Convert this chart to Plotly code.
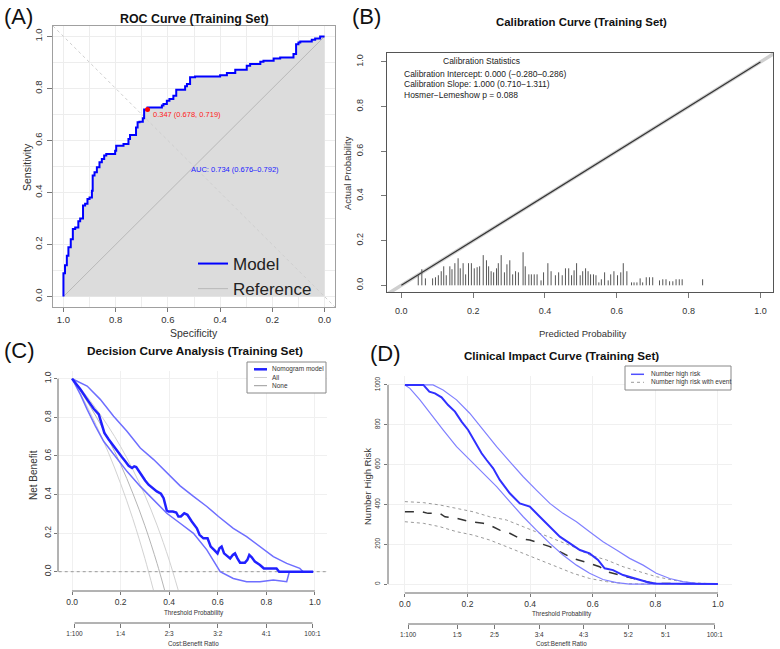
import plotly.graph_objects as go

W, H = 780, 649
def px(x): return x / W
def py(y): return 1 - y / H

FONT = "Liberation Sans, Arial, Helvetica, sans-serif"

# ---------------- Panel A : ROC ----------------
roc_spec = [1.000, 1.000, 0.994, 0.987, 0.981, 0.972, 0.964, 0.955, 0.943, 0.936, 0.925, 0.917,
            0.908, 0.900, 0.891, 0.888, 0.881, 0.872, 0.862, 0.853, 0.844, 0.836, 0.828, 0.802,
            0.798, 0.793, 0.770, 0.768, 0.751, 0.745, 0.734, 0.722, 0.716, 0.709, 0.696, 0.691,
            0.678, 0.658, 0.623, 0.617, 0.604, 0.594, 0.579, 0.568, 0.553, 0.534, 0.527, 0.515,
            0.496, 0.400, 0.374, 0.342, 0.298, 0.285, 0.246, 0.234, 0.195, 0.170, 0.119, 0.109,
            0.100, 0.093, 0.049, 0.036, 0.017, 0.000]
roc_sens = [0.000, 0.080, 0.090, 0.120, 0.157, 0.190, 0.220, 0.260, 0.266, 0.290, 0.300, 0.350,
            0.357, 0.375, 0.381, 0.407, 0.465, 0.478, 0.497, 0.516, 0.529, 0.542, 0.548, 0.548,
            0.561, 0.580, 0.580, 0.586, 0.586, 0.606, 0.621, 0.621, 0.650, 0.670, 0.672, 0.685,
            0.719, 0.727, 0.727, 0.734, 0.740, 0.753, 0.759, 0.772, 0.795, 0.795, 0.808, 0.817,
            0.843, 0.846, 0.851, 0.859, 0.872, 0.887, 0.894, 0.903, 0.906, 0.915, 0.919, 0.932,
            0.970, 0.977, 0.980, 0.987, 0.992, 1.000]
ref_spec = [1.0, 0.0]
ref_sens = [0.0, 1.0]
cut_spec, cut_sens, cut_thr = 0.678, 0.719, 0.347
auc_text = "AUC: 0.734 (0.676\u20130.792)"

# ---------------- Panel B : Calibration ----------------
cal_pred = [0.0, 1.0]
cal_obs = [0.0, 1.0]
ideal = [-0.05, 1.05]
spike_x = [0.047, 0.057, 0.067, 0.087, 0.095, 0.103, 0.111, 0.118, 0.125, 0.135, 0.141, 0.149,
           0.158, 0.164, 0.172, 0.179, 0.187, 0.195, 0.203, 0.211, 0.218, 0.228, 0.237, 0.243,
           0.250, 0.257, 0.265, 0.270, 0.278, 0.287, 0.294, 0.302, 0.310, 0.318, 0.326, 0.339,
           0.345, 0.355, 0.362, 0.370, 0.378, 0.389, 0.396, 0.408, 0.417, 0.429, 0.438, 0.448,
           0.457, 0.466, 0.474, 0.481, 0.488, 0.498, 0.505, 0.513, 0.520, 0.527, 0.535, 0.542,
           0.550, 0.557, 0.566, 0.576, 0.583, 0.592, 0.602, 0.611, 0.618, 0.628, 0.641, 0.648,
           0.656, 0.665, 0.672, 0.682, 0.691, 0.700, 0.719, 0.728, 0.737, 0.747, 0.756, 0.765,
           0.774, 0.782, 0.839]
spike_h = [0.045, 0.072, 0.031, 0.031, 0.036, 0.045, 0.063, 0.085, 0.045, 0.085, 0.072, 0.099,
           0.121, 0.076, 0.099, 0.049, 0.099, 0.099, 0.076, 0.081, 0.085, 0.135, 0.112, 0.085,
           0.063, 0.058, 0.076, 0.099, 0.135, 0.058, 0.094, 0.112, 0.049, 0.063, 0.058, 0.148,
           0.085, 0.049, 0.049, 0.049, 0.049, 0.022, 0.058, 0.099, 0.063, 0.045, 0.058, 0.045,
           0.076, 0.076, 0.045, 0.067, 0.099, 0.045, 0.063, 0.076, 0.063, 0.049, 0.049, 0.045,
           0.013, 0.027, 0.058, 0.022, 0.049, 0.063, 0.045, 0.058, 0.099, 0.063, 0.013, 0.013,
           0.013, 0.031, 0.013, 0.036, 0.036, 0.036, 0.022, 0.027, 0.027, 0.018, 0.018, 0.027,
           0.027, 0.027, 0.027]
cal_stats = ["Calibration Intercept: 0.000 (\u22120.280\u20130.286)",
             "Calibration Slope: 1.000 (0.710\u22121.311)",
             "Hosmer\u2212Lemeshow p = 0.088"]

# ---------------- Panel C : DCA ----------------
dca_x = [0.0, 0.034, 0.062, 0.089, 0.110, 0.116, 0.123, 0.133, 0.151, 0.171, 0.188, 0.205, 0.219,
         0.233, 0.247, 0.256, 0.264, 0.278, 0.288, 0.301, 0.315, 0.333, 0.349, 0.366, 0.377, 0.390,
         0.397, 0.415, 0.429, 0.438, 0.448, 0.462, 0.475, 0.493, 0.514, 0.525, 0.541, 0.558, 0.571,
         0.585, 0.599, 0.607, 0.616, 0.626, 0.640, 0.651, 0.662, 0.671, 0.681, 0.692, 0.712, 0.722,
         0.730, 0.740, 0.753, 0.774, 0.790, 0.842, 0.853, 0.993]
dca_nb = [1.0, 0.945, 0.893, 0.844, 0.815, 0.792, 0.762, 0.719, 0.685, 0.650, 0.619, 0.594, 0.572,
          0.549, 0.537, 0.546, 0.542, 0.515, 0.497, 0.473, 0.451, 0.433, 0.416, 0.404, 0.381, 0.317,
          0.312, 0.312, 0.307, 0.286, 0.286, 0.303, 0.295, 0.260, 0.225, 0.191, 0.173, 0.173, 0.130,
          0.113, 0.095, 0.121, 0.130, 0.095, 0.078, 0.069, 0.087, 0.095, 0.069, 0.047, 0.047, 0.061,
          0.087, 0.075, 0.052, 0.035, 0.017, 0.017, 0.0, 0.0]
dca_up_x = [0.0, 0.062, 0.116, 0.171, 0.226, 0.281, 0.336, 0.390, 0.445, 0.500, 0.555, 0.603,
            0.664, 0.719, 0.774, 0.829, 0.884, 0.938, 0.952, 0.993]
dca_up = [1.0, 0.962, 0.893, 0.806, 0.728, 0.641, 0.581, 0.511, 0.445, 0.390, 0.338, 0.286,
          0.225, 0.182, 0.130, 0.078, 0.043, 0.017, 0.0, 0.0]
dca_lo_x = [0.0, 0.034, 0.062, 0.096, 0.130, 0.171, 0.226, 0.281, 0.336, 0.390, 0.445, 0.500,
            0.555, 0.610, 0.664, 0.719, 0.774, 0.829, 0.884, 0.895, 0.993]
dca_lo = [1.0, 0.919, 0.841, 0.754, 0.676, 0.607, 0.520, 0.442, 0.373, 0.303, 0.251, 0.199,
          0.113, 0.0, -0.035, -0.052, -0.052, -0.043, -0.052, 0.0, 0.0]
all_x = [0.0, 0.05, 0.10, 0.15, 0.20, 0.25, 0.30, 0.35, 0.40, 0.437]
all_mid = [1.0, 0.906, 0.802, 0.686, 0.556, 0.407, 0.238, 0.043, -0.095]
all_mid_x = [0.0, 0.05, 0.10, 0.15, 0.20, 0.25, 0.30, 0.35, 0.381]
all_lo = [1.0, 0.886, 0.758, 0.616, 0.456, 0.275, 0.068, -0.095]
all_lo_x = [0.0, 0.05, 0.10, 0.15, 0.20, 0.25, 0.30, 0.335]
all_hi = [1.0, 0.926, 0.843, 0.751, 0.648, 0.530, 0.396, 0.241, 0.060, -0.095]
none_x = [-0.055, 1.05]
none_y = [0.0, 0.0]
cb_c_pos = [0.01, 0.2, 0.4, 0.6, 0.8, 0.99]
cb_c_lab = ["1:100", "1:4", "2:3", "3:2", "4:1", "100:1"]

# ---------------- Panel D : Clinical impact ----------------
hr_x = [0.0, 0.059, 0.078, 0.096, 0.117, 0.138, 0.160, 0.181, 0.202, 0.223, 0.245, 0.261, 0.282,
        0.303, 0.335, 0.367, 0.399, 0.431, 0.463, 0.495, 0.527, 0.559, 0.590, 0.617, 0.638, 0.665,
        0.697, 0.739, 0.782, 0.803, 1.0]
hr_y = [1000, 1000, 966, 958, 938, 899, 866, 816, 774, 715, 657, 623, 581, 523, 456, 405, 389, 338,
        288, 238, 204, 171, 154, 121, 79, 70, 45, 28, 7, 3, 0]
hr_up_x = [0.0, 0.09, 0.122, 0.165, 0.207, 0.25, 0.293, 0.335, 0.378, 0.42, 0.463, 0.505, 0.548,
           0.59, 0.633, 0.676, 0.718, 0.761, 0.803, 0.846, 0.888, 0.931, 1.0]
hr_up = [1000, 1000, 975, 925, 858, 774, 690, 615, 539, 472, 405, 355, 313, 263, 213, 171, 129, 95,
         54, 28, 12, 3, 0]
hr_lo_x = [0.0, 0.016, 0.048, 0.08, 0.122, 0.165, 0.207, 0.25, 0.293, 0.335, 0.378, 0.42, 0.463,
           0.505, 0.548, 0.59, 0.633, 0.676, 0.718, 1.0]
hr_lo = [1000, 983, 925, 858, 774, 690, 623, 556, 489, 414, 338, 271, 204, 146, 95, 54, 23, 7, 0, 0]
ev_x = [0.0, 0.053, 0.074, 0.112, 0.128, 0.165, 0.207, 0.25, 0.271, 0.303, 0.335, 0.367, 0.399,
        0.431, 0.463, 0.495, 0.537, 0.59, 0.622, 0.644, 0.686, 0.729, 0.771, 0.803, 1.0]
ev_y = [363, 363, 355, 355, 338, 330, 313, 305, 296, 271, 255, 229, 221, 204, 188, 162, 129, 104,
        87, 62, 45, 28, 12, 3, 0]
ev_up_x = [0.0, 0.059, 0.112, 0.165, 0.218, 0.271, 0.324, 0.378, 0.431, 0.484, 0.537, 0.59, 0.644,
           0.697, 0.75, 0.803, 0.856, 0.91, 1.0]
ev_up = [414, 409, 397, 380, 363, 338, 322, 288, 255, 221, 188, 146, 121, 87, 62, 37, 20, 7, 0]
ev_lo_x = [0.0, 0.059, 0.112, 0.165, 0.218, 0.271, 0.324, 0.378, 0.431, 0.484, 0.537, 0.59, 0.644,
           0.697, 0.75, 1.0]
ev_lo = [313, 305, 288, 263, 246, 221, 188, 154, 121, 87, 54, 28, 12, 3, 0, 0]
cb_d_pos = [0.01, 0.167, 0.286, 0.429, 0.571, 0.714, 0.833, 0.99]
cb_d_lab = ["1:100", "1:5", "2:5", "3:4", "4:3", "5:2", "5:1", "100:1"]

fig = go.Figure()
skip = dict(hoverinfo="skip")

# ---- A traces
fig.add_trace(go.Scatter(x=roc_spec, y=roc_sens, mode="lines", line=dict(width=0, shape="vh"),
                         fill="tozeroy", fillcolor="#DCDCDC", showlegend=False, xaxis="x", yaxis="y", **skip))
fig.add_trace(go.Scatter(x=[1.04, -0.04], y=[1.04, -0.04], mode="lines",
                         line=dict(color="#CFCFCF", width=1, dash="dot"), showlegend=False,
                         xaxis="x", yaxis="y", **skip))
fig.add_trace(go.Scatter(x=ref_spec, y=ref_sens, mode="lines", name="Reference", legendrank=2,
                         line=dict(color="#B8B8B8", width=1), xaxis="x", yaxis="y", **skip))
fig.add_trace(go.Scatter(x=roc_spec, y=roc_sens, mode="lines", name="Model", legendrank=1,
                         line=dict(color="#0000FF", width=2, shape="vh"), xaxis="x", yaxis="y", **skip))
fig.add_trace(go.Scatter(x=[cut_spec], y=[cut_sens], mode="markers", showlegend=False,
                         marker=dict(color="#FF0000", size=5), xaxis="x", yaxis="y", **skip))

# ---- B traces
fig.add_trace(go.Scatter(x=ideal, y=ideal, mode="lines", line=dict(color="#CFCFCF", width=3.5),
                         showlegend=False, xaxis="x2", yaxis="y2", **skip))
fig.add_trace(go.Scatter(x=cal_pred, y=cal_obs, mode="lines", line=dict(color="#333333", width=1.2),
                         showlegend=False, xaxis="x2", yaxis="y2", **skip))
sx, sy = [], []
for xv, hv in zip(spike_x, spike_h):
    sx += [xv, xv, None]
    sy += [0, hv, None]
fig.add_trace(go.Scatter(x=sx, y=sy, mode="lines", line=dict(color="#555555", width=1),
                         showlegend=False, xaxis="x2", yaxis="y2", **skip))

# ---- C traces
for xs, ys, col in [(all_lo_x, all_lo, "#D2D2D2"), (all_mid_x, all_mid, "#B5B5B5"), (all_x, all_hi, "#D2D2D2")]:
    fig.add_trace(go.Scatter(x=xs, y=ys, mode="lines", line=dict(color=col, width=1, shape="spline"),
                             showlegend=False, xaxis="x3", yaxis="y3", **skip))
fig.add_trace(go.Scatter(x=none_x, y=none_y, mode="lines", line=dict(color="#999999", width=1, dash="dot"),
                         showlegend=False, xaxis="x3", yaxis="y3", **skip))
fig.add_trace(go.Scatter(x=dca_up_x, y=dca_up, mode="lines", line=dict(color="#6E6EFF", width=1.5),
                         showlegend=False, xaxis="x3", yaxis="y3", **skip))
fig.add_trace(go.Scatter(x=dca_lo_x, y=dca_lo, mode="lines", line=dict(color="#6E6EFF", width=1.5),
                         showlegend=False, xaxis="x3", yaxis="y3", **skip))
fig.add_trace(go.Scatter(x=dca_x, y=dca_nb, mode="lines", line=dict(color="#2020FF", width=2.5),
                         showlegend=False, xaxis="x3", yaxis="y3", **skip))
fig.add_trace(go.Scatter(x=[None], y=[None], showlegend=False, xaxis="x5", yaxis="y3", **skip))

# ---- D traces
fig.add_trace(go.Scatter(x=ev_up_x, y=ev_up, mode="lines", line=dict(color="#9A9A9A", width=1, dash="dot"),
                         showlegend=False, xaxis="x4", yaxis="y4", **skip))
fig.add_trace(go.Scatter(x=ev_lo_x, y=ev_lo, mode="lines", line=dict(color="#9A9A9A", width=1, dash="dot"),
                         showlegend=False, xaxis="x4", yaxis="y4", **skip))
fig.add_trace(go.Scatter(x=ev_x, y=ev_y, mode="lines", line=dict(color="#333333", width=1.5, dash="dash"),
                         showlegend=False, xaxis="x4", yaxis="y4", **skip))
fig.add_trace(go.Scatter(x=hr_up_x, y=hr_up, mode="lines", line=dict(color="#8080FF", width=1.2),
                         showlegend=False, xaxis="x4", yaxis="y4", **skip))
fig.add_trace(go.Scatter(x=hr_lo_x, y=hr_lo, mode="lines", line=dict(color="#8080FF", width=1.2),
                         showlegend=False, xaxis="x4", yaxis="y4", **skip))
fig.add_trace(go.Scatter(x=hr_x, y=hr_y, mode="lines", line=dict(color="#3030FF", width=2),
                         showlegend=False, xaxis="x4", yaxis="y4", **skip))
fig.add_trace(go.Scatter(x=[None], y=[None], showlegend=False, xaxis="x6", yaxis="y4", **skip))

TICK = dict(family=FONT, size=9.5, color="#333333")

def ax(domain, rng, **kw):
    d = dict(domain=domain, range=rng, ticks="outside", ticklen=5, tickwidth=1, tickcolor="#777777",
             tickfont=TICK, showgrid=False, zeroline=False, showline=False, fixedrange=True)
    d.update(kw)
    return d

ticks01 = [0, 0.2, 0.4, 0.6, 0.8, 1.0]
lab01 = ["0.0", "0.2", "0.4", "0.6", "0.8", "1.0"]
SMALL = dict(family=FONT, size=8.5, color="#333")

layout = dict(
    width=W, height=H, margin=dict(l=0, r=0, t=0, b=0),
    paper_bgcolor="white", plot_bgcolor="white",
    font=dict(family=FONT, color="#222222"),
    xaxis=ax([px(53), px(335)], [1.04, -0.04], anchor="y", tickvals=ticks01, ticktext=lab01,
             showline=True, mirror=True, linecolor="#A0A0A0", showgrid=True, gridcolor="#EDEDED",
             minor=dict(dtick=0.1, showgrid=True, gridcolor="#EDEDED"), ticklen=4),
    yaxis=ax([py(307), py(26)], [-0.04, 1.04], anchor="x", tickvals=ticks01, ticktext=lab01,
             tickangle=-90, showline=True, mirror=True, linecolor="#A0A0A0", showgrid=True,
             gridcolor="#EDEDED", minor=dict(dtick=0.1, showgrid=True, gridcolor="#EDEDED"),
             ticklabelstandoff=1),
    xaxis2=ax([px(387), px(773)], [-0.04, 1.035], anchor="y2", tickvals=ticks01, ticktext=lab01,
              showline=True, mirror=True, linecolor="#555555", ticklabelstandoff=5,
              tickfont=dict(family=FONT, size=9, color="#333")),
    yaxis2=ax([py(292), py(53)], [-0.03, 1.04], anchor="x2", tickvals=ticks01, ticktext=lab01,
              tickangle=-90, showline=True, mirror=True, linecolor="#555555", ticklabelstandoff=14,
              tickfont=dict(family=FONT, size=9, color="#333")),
    xaxis3=ax([px(58), px(327)], [-0.058, 1.05], anchor="y3", tickvals=ticks01, ticktext=lab01,
              showgrid=True, gridcolor="#F0F0F0", tickfont=SMALL, ticklen=3),
    yaxis3=ax([py(591), py(371)], [-0.1, 1.04], anchor="x3", tickvals=ticks01, ticktext=lab01,
              tickangle=-90, showgrid=True, gridcolor="#F0F0F0", tickfont=SMALL, ticklen=3),
    xaxis5=dict(overlaying="x3", anchor="free", position=py(623), range=[-0.058, 1.05],
                tickvals=cb_c_pos, ticktext=cb_c_lab, ticks="outside", ticklen=4, tickcolor="#777777",
                tickfont=dict(family=FONT, size=6.5, color="#333"), showgrid=False, zeroline=False,
                showline=False, fixedrange=True),
    xaxis4=ax([px(388), px(732)], [-0.054, 1.045], anchor="y4", tickvals=ticks01, ticktext=lab01,
              showgrid=True, gridcolor="#F0F0F0", tickfont=SMALL, ticklen=3),
    yaxis4=ax([py(593), py(376)], [-45, 1045], anchor="x4", tickvals=[0, 200, 400, 600, 800, 1000],
              tickangle=-90, showgrid=True, gridcolor="#F0F0F0",
              tickfont=dict(family=FONT, size=6.5, color="#333"), ticklen=3, ticklabelstandoff=1),
    xaxis6=dict(overlaying="x4", anchor="free", position=py(624), range=[-0.054, 1.045],
                tickvals=cb_d_pos, ticktext=cb_d_lab, ticks="outside", ticklen=4, tickcolor="#777777",
                tickfont=dict(family=FONT, size=6.5, color="#333"), showgrid=False, zeroline=False,
                showline=False, fixedrange=True),
    legend=dict(x=px(193), y=py(246), xanchor="left", yanchor="top", bgcolor="rgba(0,0,0,0)",
                font=dict(family=FONT, size=17, color="#222222"), itemwidth=30, tracegroupgap=0),
    showlegend=True,
)
fig.update_layout(**layout)

shapes = []
def hline(xref, x0, x1, y, color="#666666"):
    shapes.append(dict(type="line", xref=xref, yref="paper", x0=x0, x1=x1, y0=py(y), y1=py(y),
                       line=dict(color=color, width=1)))
def vline(yref, y0, y1, x, color="#666666"):
    shapes.append(dict(type="line", xref="paper", yref=yref, x0=px(x), x1=px(x), y0=y0, y1=y1,
                       line=dict(color=color, width=1)))
hline("x3", 0, 1, 591)
vline("y3", 0, 1, 58)
hline("x3", min(cb_c_pos), max(cb_c_pos), 623)
hline("x4", 0, 1, 593)
vline("y4", 0, 1000, 388)
hline("x4", min(cb_d_pos), max(cb_d_pos), 624)

# manual legends for C and D
shapes.append(dict(type="rect", xref="paper", yref="paper", x0=px(247), x1=px(326), y0=py(393), y1=py(362),
                   line=dict(color="#888888", width=1), fillcolor="white"))
shapes.append(dict(type="rect", xref="paper", yref="paper", x0=px(625), x1=px(731), y0=py(390), y1=py(366),
                   line=dict(color="#888888", width=1), fillcolor="white"))
leg_c = [("Nomogram model", "#2020FF", 2.5, "solid", 369.3),
         ("All", "#D0D0D0", 1, "solid", 377.5),
         ("None", "#999999", 1, "solid", 385.7)]
leg_d = [("Number high risk", "#5050FF", 1.5, "solid", 374.3),
         ("Number high risk with event", "#9A9A9A", 1, "dot", 382.3)]
annotations = []
for txt, col, wdt, dash, yy in leg_c:
    shapes.append(dict(type="line", xref="paper", yref="paper", x0=px(254), x1=px(267), y0=py(yy), y1=py(yy),
                       line=dict(color=col, width=wdt, dash=dash)))
    annotations.append(dict(text=txt, x=px(270), y=py(yy), xref="paper", yref="paper", xanchor="left",
                            yanchor="middle", showarrow=False, font=dict(family=FONT, size=6.5, color="#333")))
for txt, col, wdt, dash, yy in leg_d:
    shapes.append(dict(type="line", xref="paper", yref="paper", x0=px(631), x1=px(644), y0=py(yy), y1=py(yy),
                       line=dict(color=col, width=wdt, dash=dash)))
    annotations.append(dict(text=txt, x=px(649), y=py(yy), xref="paper", yref="paper", xanchor="left",
                            yanchor="middle", showarrow=False, font=dict(family=FONT, size=6.5, color="#333")))

def note(text, x, y, size, bold=False, color="#111111", angle=0, xanchor="center"):
    t = "<b>%s</b>" % text if bold else text
    annotations.append(dict(text=t, x=px(x), y=py(y), xref="paper", yref="paper", xanchor=xanchor,
                            yanchor="middle", showarrow=False, textangle=angle,
                            font=dict(family=FONT, size=size, color=color)))

# panel letters
note("(A)", 2, 16, 22, xanchor="left")
note("(B)", 350, 17, 22, xanchor="left")
note("(C)", 2, 350, 22, xanchor="left")
note("(D)", 368, 353, 22, xanchor="left")
# titles
note("ROC Curve (Training Set)", 194, 19, 12.4, bold=True)
note("Calibration Curve (Training Set)", 581, 22, 11.4, bold=True)
note("Decision Curve Analysis (Training Set)", 194.5, 351, 11.8, bold=True)
note("Clinical Impact Curve (Training Set)", 561.5, 355, 11.6, bold=True)
# axis titles
note("Specificity", 194, 333, 10.5, color="#333")
note("Sensitivity", 27, 167, 10.5, color="#333", angle=-90)
note("Predicted Probability", 582, 333, 9.5, color="#333")
note("Actual Probability", 347, 173, 9.5, color="#333", angle=-90)
note("Threshold Probability", 193.5, 613, 6.3, color="#333")
note("Cost:Benefit Ratio", 193.5, 643, 6.3, color="#333")
note("Net Benefit", 33, 475, 10, color="#333", angle=-90)
note("Threshold Probability", 561.5, 614, 6.3, color="#333")
note("Cost:Benefit Ratio", 561.5, 643, 6.3, color="#333")
note("Number High Risk", 367, 487, 9.5, color="#333", angle=-90)
# calibration stats
note("Calibration Statistics", 481, 61, 8.5, color="#222")
for i, s in enumerate(cal_stats):
    note(s, 402, 74 + 10.5 * i, 8.5, color="#222", xanchor="left")
# ROC annotations (data coords)
annotations.append(dict(text="%.3f (%.3f, %.3f)" % (cut_thr, cut_spec, cut_sens), x=cut_spec, y=cut_sens,
                        xref="x", yref="y", xanchor="left", yanchor="middle", xshift=3, yshift=-5,
                        showarrow=False, font=dict(family=FONT, size=7.5, color="#FF2020")))
annotations.append(dict(text=auc_text, x=0.343, y=0.488, xref="x", yref="y", xanchor="center",
                        yanchor="middle", showarrow=False, font=dict(family=FONT, size=7.5, color="#2020FF")))

fig.update_layout(shapes=shapes, annotations=annotations)
fig.write_html("out.html")
